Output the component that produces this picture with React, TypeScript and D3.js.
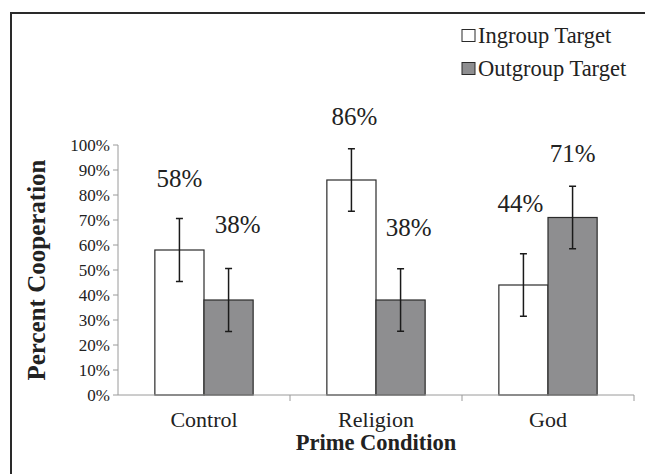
import * as d3 from 'd3';
import React from 'react';

const categories = ['Control', 'Religion', 'God'];
const seriesNames = ['Ingroup Target', 'Outgroup Target'];
const ingroupValues = [58, 86, 44];
const outgroupValues = [38, 38, 71];
const ingroupErrors = [12.6, 12.5, 12.5];
const outgroupErrors = [12.6, 12.5, 12.5];
// where the percentage labels sit, in percent units (placed by hand in the original)
const ingroupLabelLevel = [83.3, 108, 73.3];
const outgroupLabelLevel = [64.9, 63.7, 93.1];
const ingroupLabelShift = [0, 3, -3];
const outgroupLabelShift = [9, 8, 0];
const yTicks = [0, 10, 20, 30, 40, 50, 60, 70, 80, 90, 100];

const seriesColors = ['#ffffff', '#8e8e90'];
const font = 'Liberation Serif';

interface BarDatum {
	category: string;
	series: string;
	value: number;
	error: number;
	labelLevel: number;
	labelShift: number;
}

const width = 645;
const height = 474;
const margin = { top: 145, right: 11, bottom: 79, left: 118 };

const data: BarDatum[] = categories.flatMap((category, i) => [
	{ category, series: seriesNames[0], value: ingroupValues[i], error: ingroupErrors[i], labelLevel: ingroupLabelLevel[i], labelShift: ingroupLabelShift[i] },
	{ category, series: seriesNames[1], value: outgroupValues[i], error: outgroupErrors[i], labelLevel: outgroupLabelLevel[i], labelShift: outgroupLabelShift[i] },
]);

const xScale = d3.scaleBand()
	.domain(categories)
	.range([margin.left, width - margin.right]);

const seriesScale = d3.scaleBand()
	.domain(seriesNames)
	.range([0, xScale.bandwidth()])
	.paddingOuter(0.75);

const yScale = d3.scaleLinear()
	.domain([0, 100])
	.range([height - margin.bottom, margin.top]);

const colorScale = d3.scaleOrdinal<string, string>()
	.domain(seriesNames)
	.range(seriesColors);

const barCenter = (d: BarDatum): number =>
	(xScale(d.category) ?? 0) + (seriesScale(d.series) ?? 0) + seriesScale.bandwidth() / 2;

const axisColor = '#9a9a9a';
const textColor = '#222';
const serif = { fontFamily: font };

const App = (): React.JSX.Element => {
	const baseY = yScale(0);
	return (
		<svg width={width} height={height} style={{ position: 'absolute', left: 0, top: 0 }}>
			<rect width={width} height={height} fill="#ffffff" />
			{/* outer frame, right and bottom edges are cut off in the original */}
			<rect x={11} y={13} width={700} height={500} fill="none" stroke="#2a2a2a" strokeWidth={2} />

			{/* y axis */}
			<line x1={margin.left} x2={margin.left} y1={yScale(100)} y2={baseY} stroke={axisColor} />
			{yTicks.map((t) => (
				<line key={`t${t}`} x1={margin.left - 5} x2={margin.left} y1={yScale(t)} y2={yScale(t)} stroke={axisColor} />
			))}
			{yTicks.map((t) => (
				<text key={`l${t}`} x={margin.left - 8} y={yScale(t) + 6} textAnchor="end" fill={textColor}
					fontSize={17} style={serif}>{`${t}%`}</text>
			))}

			{/* bars */}
			{data.map((d) => (
				<rect key={`${d.category}-${d.series}`}
					x={(xScale(d.category) ?? 0) + (seriesScale(d.series) ?? 0)}
					y={yScale(d.value)}
					width={seriesScale.bandwidth()}
					height={baseY - yScale(d.value)}
					fill={colorScale(d.series)}
					stroke="#2b2b2b"
					strokeWidth={1.2} />
			))}

			{/* x axis */}
			<line x1={margin.left} x2={width - margin.right} y1={baseY} y2={baseY} stroke={axisColor} />
			{categories.map((c) => {
				const right = (xScale(c) ?? 0) + xScale.bandwidth();
				return <line key={c} x1={right} x2={right} y1={baseY} y2={baseY + 6} stroke={axisColor} />;
			})}
			{categories.map((c) => (
				<text key={c} x={(xScale(c) ?? 0) + xScale.bandwidth() / 2} y={baseY + 32} textAnchor="middle" fill={textColor}
					fontSize={22} style={serif}>{c}</text>
			))}

			{/* error bars */}
			<g stroke="#1a1a1a" strokeWidth={1.5}>
				{data.map((d) => {
					const cx = barCenter(d);
					const top = yScale(d.value + d.error);
					const bottom = yScale(d.value - d.error);
					return (
						<g key={`${d.category}-${d.series}`}>
							<line x1={cx} x2={cx} y1={top} y2={bottom} />
							<line x1={cx - 3.5} x2={cx + 3.5} y1={top} y2={top} />
							<line x1={cx - 3.5} x2={cx + 3.5} y1={bottom} y2={bottom} />
						</g>
					);
				})}
			</g>

			{/* value labels */}
			{data.map((d) => (
				<text key={`${d.category}-${d.series}`} x={barCenter(d) + d.labelShift} y={yScale(d.labelLevel)}
					textAnchor="middle" fill={textColor} fontSize={25} style={serif}>{`${d.value}%`}</text>
			))}

			{/* axis titles */}
			<text transform={`translate(45, ${yScale(50)}) rotate(-90)`} textAnchor="middle" fill={textColor}
				fontSize={25} fontWeight="bold" style={serif}>Percent Cooperation</text>
			<text x={(margin.left + width - margin.right) / 2} y={450} textAnchor="middle" fill={textColor}
				fontSize={22.5} fontWeight="bold" style={serif}>Prime Condition</text>

			{/* legend */}
			{seriesNames.map((name, i) => (
				<g key={name} transform={`translate(462, ${29.5 + i * 33})`}>
					<rect width={13} height={12} fill={colorScale(name)} stroke="#2b2b2b" strokeWidth={1} />
					<text x={16} y={13.5} fill={textColor} fontSize={22.5} style={serif}>{name}</text>
				</g>
			))}
		</svg>
	);
};

export default App;
